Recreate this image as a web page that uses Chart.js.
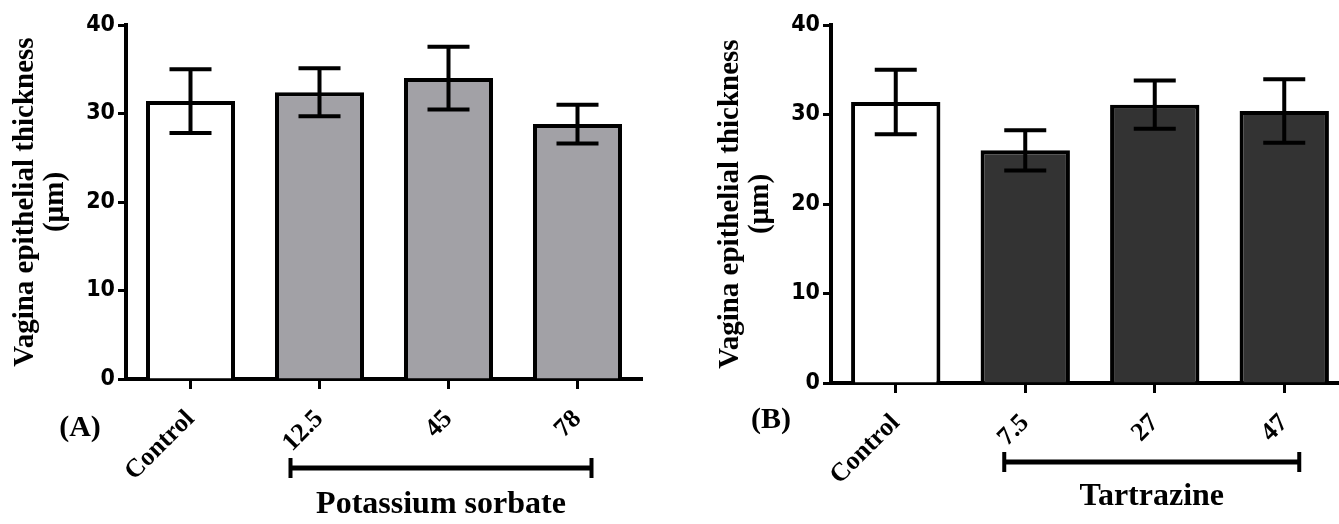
<!DOCTYPE html>
<html>
<head>
<meta charset="utf-8">
<script src="https://cdn.jsdelivr.net/npm/chart.js@4"></script>
<style>
  html, body { margin: 0; padding: 0; background: #fff; overflow: hidden; width: 1339px; height: 524px; }
  .panel { position: absolute; top: 0; width: 660px; height: 524px; }
  #panelA { left: 0; }
  #panelB { left: 705px; }
</style>
</head>
<body>
<div class="panel" id="panelA"><canvas id="chartA"></canvas></div>
<div class="panel" id="panelB"><canvas id="chartB"></canvas></div>
<script>
// Panel A - potassium sorbate
const categoriesA = ["Control", "12.5", "45", "78"];
const meansA = [31.4, 32.4, 34.0, 28.8];
const errorsA = [3.6, 2.7, 3.55, 2.2];

// Panel B - tartrazine
const categoriesB = ["Control", "7.5", "27", "47"];
const meansB = [31.4, 26.0, 31.1, 30.4];
const errorsB = [3.6, 2.25, 2.7, 3.55];

const yTicks = [0, 10, 20, 30, 40];
const yTitle = ["Vagina epithelial thickness", "(µm)"];

const serif = '"Liberation Serif", "Times New Roman", serif';
const narrow = '"Liberation Sans Narrow", "Arial Narrow", "DejaVu Sans Condensed", sans-serif';

// mean +/- error whiskers on top of each bar
const errorBars = {
  id: "errorBars",
  afterDatasetsDraw(chart, args, opts) {
    const ctx = chart.ctx;
    const y = chart.scales.y;
    const bars = chart.getDatasetMeta(0).data;
    ctx.save();
    ctx.strokeStyle = "#000";
    ctx.lineWidth = 4;
    bars.forEach((bar, i) => {
      const top = y.getPixelForValue(opts.means[i] + opts.errors[i]);
      const bottom = y.getPixelForValue(opts.means[i] - opts.errors[i]);
      ctx.beginPath();
      ctx.moveTo(bar.x, top);
      ctx.lineTo(bar.x, bottom);
      ctx.moveTo(bar.x - 21, top);
      ctx.lineTo(bar.x + 21, top);
      ctx.moveTo(bar.x - 21, bottom);
      ctx.lineTo(bar.x + 21, bottom);
      ctx.stroke();
    });
    ctx.restore();
  }
};

// bracket under the treated groups, group name and panel letter
const groupBracket = {
  id: "groupBracket",
  afterDraw(chart, args, opts) {
    const ctx = chart.ctx;
    const x = chart.scales.x;
    const base = chart.chartArea.bottom;
    const x1 = x.getPixelForValue(1) - opts.padLeft;
    const x2 = x.getPixelForValue(3) + opts.padRight;
    const yb = base + opts.bracketDy;
    ctx.save();
    ctx.fillStyle = "#000";
    ctx.fillRect(x1, yb - 2.5, x2 - x1, 5);
    ctx.fillRect(x1 - 2, yb - 10, 4, 20);
    ctx.fillRect(x2 - 2, yb - 10, 4, 20);
    ctx.textAlign = "center";
    ctx.textBaseline = "middle";
    ctx.font = "bold 32px " + serif;
    ctx.fillText(opts.group, (x1 + x2) / 2, base + opts.groupDy);
    ctx.font = "bold 30px " + serif;
    ctx.fillText(opts.letter, chart.chartArea.left + opts.letterDx, base + opts.letterDy);
    ctx.restore();
  }
};

function makeChart(id, categories, means, errors, fill, axisHeight, rightPad, extra) {
  const colors = categories.map((c, i) => (i === 0 ? "#ffffff" : fill));
  return new Chart(document.getElementById(id), {
    type: "bar",
    data: {
      labels: categories,
      datasets: [{
        data: means,
        backgroundColor: colors,
        borderColor: "#000",
        borderWidth: 4,
        borderSkipped: "bottom",
        barPercentage: 0.69,
        categoryPercentage: 1.0
      }]
    },
    options: {
      responsive: true,
      maintainAspectRatio: false,
      animation: false,
      layout: { padding: { top: 25, left: 0, right: rightPad, bottom: 0 } },
      plugins: {
        legend: { display: false },
        tooltip: { enabled: false },
        errorBars: { means: means, errors: errors },
        groupBracket: extra
      },
      scales: {
        x: {
          grid: { offset: false, drawOnChartArea: false, tickLength: 10, tickWidth: 3, tickColor: "#000" },
          border: { width: 4, color: "#000" },
          ticks: {
            color: "#000",
            autoSkip: false,
            minRotation: 45,
            maxRotation: 45,
            padding: 15,
            font: { family: serif, size: 26, weight: "bold" }
          },
          afterFit(scale) { scale.height = axisHeight; }
        },
        y: {
          min: 0,
          max: 40,
          afterBuildTicks(scale) { scale.ticks = yTicks.map(v => ({ value: v })); },
          grid: { drawOnChartArea: false, tickLength: 8, tickWidth: 3, tickColor: "#000" },
          border: { width: 4, color: "#000" },
          ticks: {
            color: "#000",
            padding: 3,
            font: { family: narrow, size: 23, weight: "bold" }
          },
          title: {
            display: true,
            text: yTitle,
            color: "#000",
            padding: { top: 10, bottom: 0 },
            font: { family: serif, size: 29, weight: "bold", lineHeight: 1.05 }
          },
          afterFit(scale) { scale.width = 126; }
        }
      }
    },
    plugins: [errorBars, groupBracket]
  });
}

makeChart("chartA", categoriesA, meansA, errorsA, "#a2a1a6", 145, 18, {
  group: "Potassium sorbate", letter: "(A)",
  padLeft: 29, padRight: 14, bracketDy: 89, groupDy: 126,
  letterDx: -46, letterDy: 49
});

makeChart("chartB", categoriesB, meansB, errorsB, "#333333", 141, 16, {
  group: "Tartrazine", letter: "(B)",
  padLeft: 21, padRight: 15, bracketDy: 79, groupDy: 114,
  letterDx: -60, letterDy: 37
});
</script>
</body>
</html>
